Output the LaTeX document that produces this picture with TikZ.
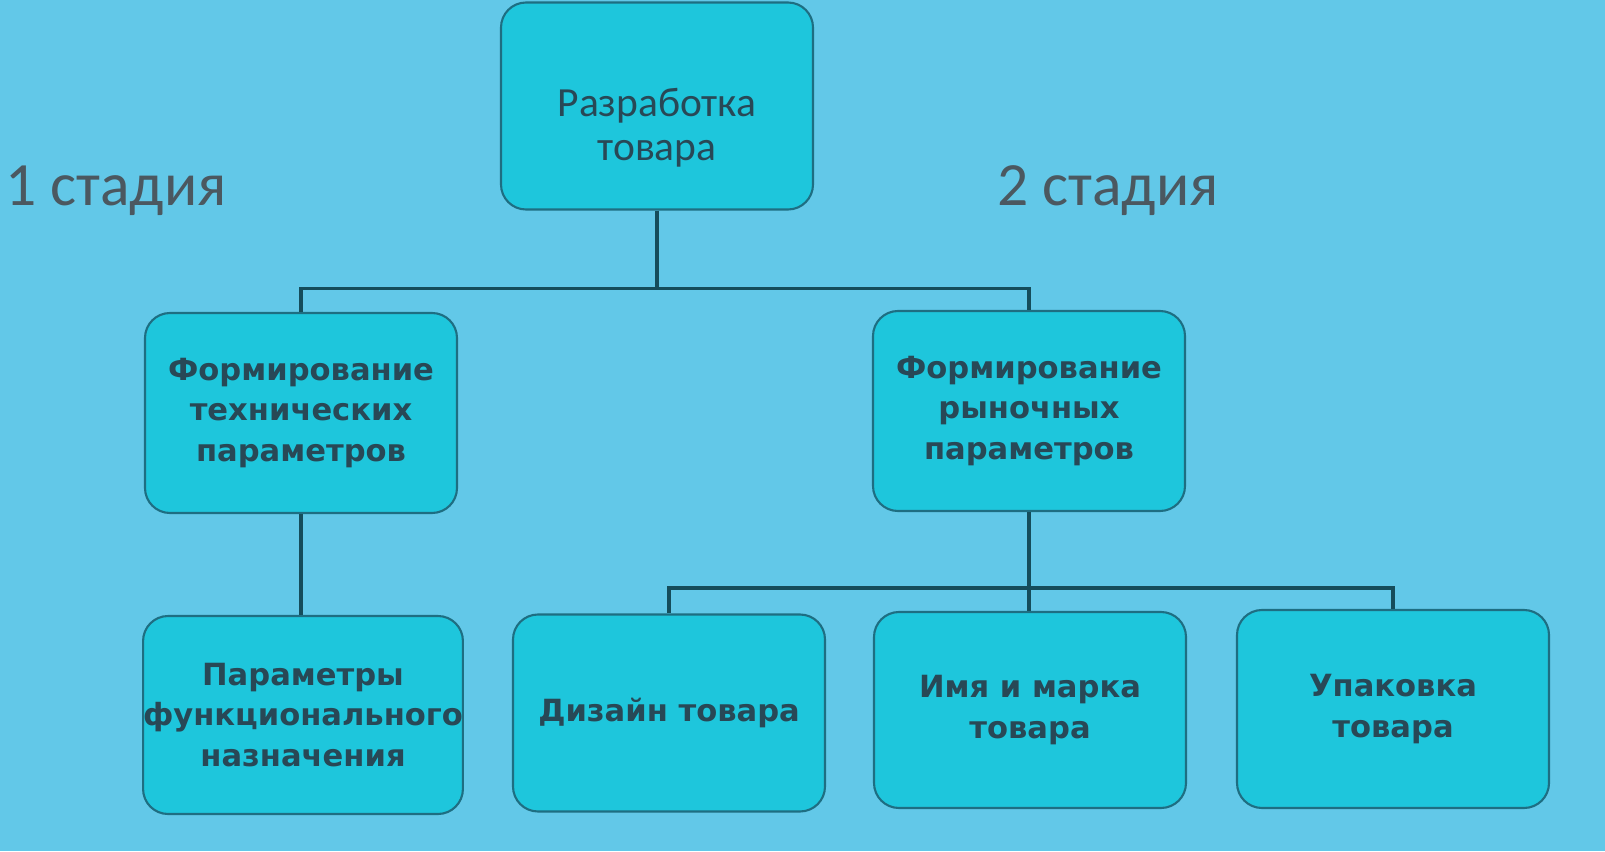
\documentclass[tikz,border=0pt]{standalone}
\usepackage{fontspec}
\setmainfont{Carlito}
\newfontfamily\boxfont{DejaVu Sans}
\usetikzlibrary{positioning}

\definecolor{slidebg}{RGB}{98,200,232}
\definecolor{boxfill}{RGB}{30,198,220}
\definecolor{boxline}{RGB}{30,110,130}
\definecolor{boxtext}{RGB}{40,72,86}
\definecolor{stagetext}{RGB}{75,88,96}

\tikzset{
	stagebox/.style={draw=boxline, fill=boxfill, rounded corners=0.25cm, line width=0.6pt,
		minimum width=3.12cm, minimum height=2.0cm, align=center, text=boxtext,
		font=\boxfont\bfseries\fontsize{8.7}{11.5}\selectfont, inner sep=0pt},
	stagelabel/.style={text=stagetext, font=\fontsize{17.5}{20}\selectfont, inner sep=0pt},
	link/.style={draw=boxline!70!black, line width=1.1pt}
}

\begin{document}
\begin{tikzpicture}
		\useasboundingbox (0,0) rectangle (16.05,8.51);
		\fill[slidebg] (0,0) rectangle (16.05,8.51);
		
		\node[stagebox, minimum height=2.07cm,
			label={[name=devtext, align=center, text=boxtext, font=\fontsize{11.8}{12.5}\selectfont, yshift=-0.22cm]center:Разработка\\товара}] (dev) at (6.57, 7.45) {};
		
		\node[stagebox] (tech) at (3.01, 4.38) {Формирование\\технических\\параметров};
		\node[stagebox] (market) at (10.29, 4.40) {Формирование\\рыночных\\параметров};
		
		\node[stagebox, minimum height=1.98cm] (func) at (3.03, 1.36) {Параметры\\функционального\\назначения};
		\node[stagebox, minimum height=1.97cm] (design) at (6.69, 1.38) {Дизайн товара};
		\node[stagebox, minimum height=1.96cm] (brand) at (10.30, 1.41) {Имя и марка\\товара};
		\node[stagebox, minimum height=1.98cm] (pack) at (13.93, 1.42) {Упаковка\\товара};
		
		\node[stagelabel] (st1) at (1.16, 6.60) {1 стадия};
		\node[stagelabel] (st2) at (11.08, 6.60) {2 стадия};
		
		\draw[link] (dev.south) -- ++(0,-0.78) -| (tech.north);
		\draw[link] (dev.south) -- ++(0,-0.78) -| (market.north);
		\draw[link] (tech.south) -- (tech.south |- func.north);
		\draw[link] (market.south) -- ++(0,-0.76) -| (design.north);
		\draw[link] (market.south) -- (market.south |- brand.north);
		\draw[link] (market.south) -- ++(0,-0.76) -| (pack.north);
	\end{tikzpicture}
\end{document}
